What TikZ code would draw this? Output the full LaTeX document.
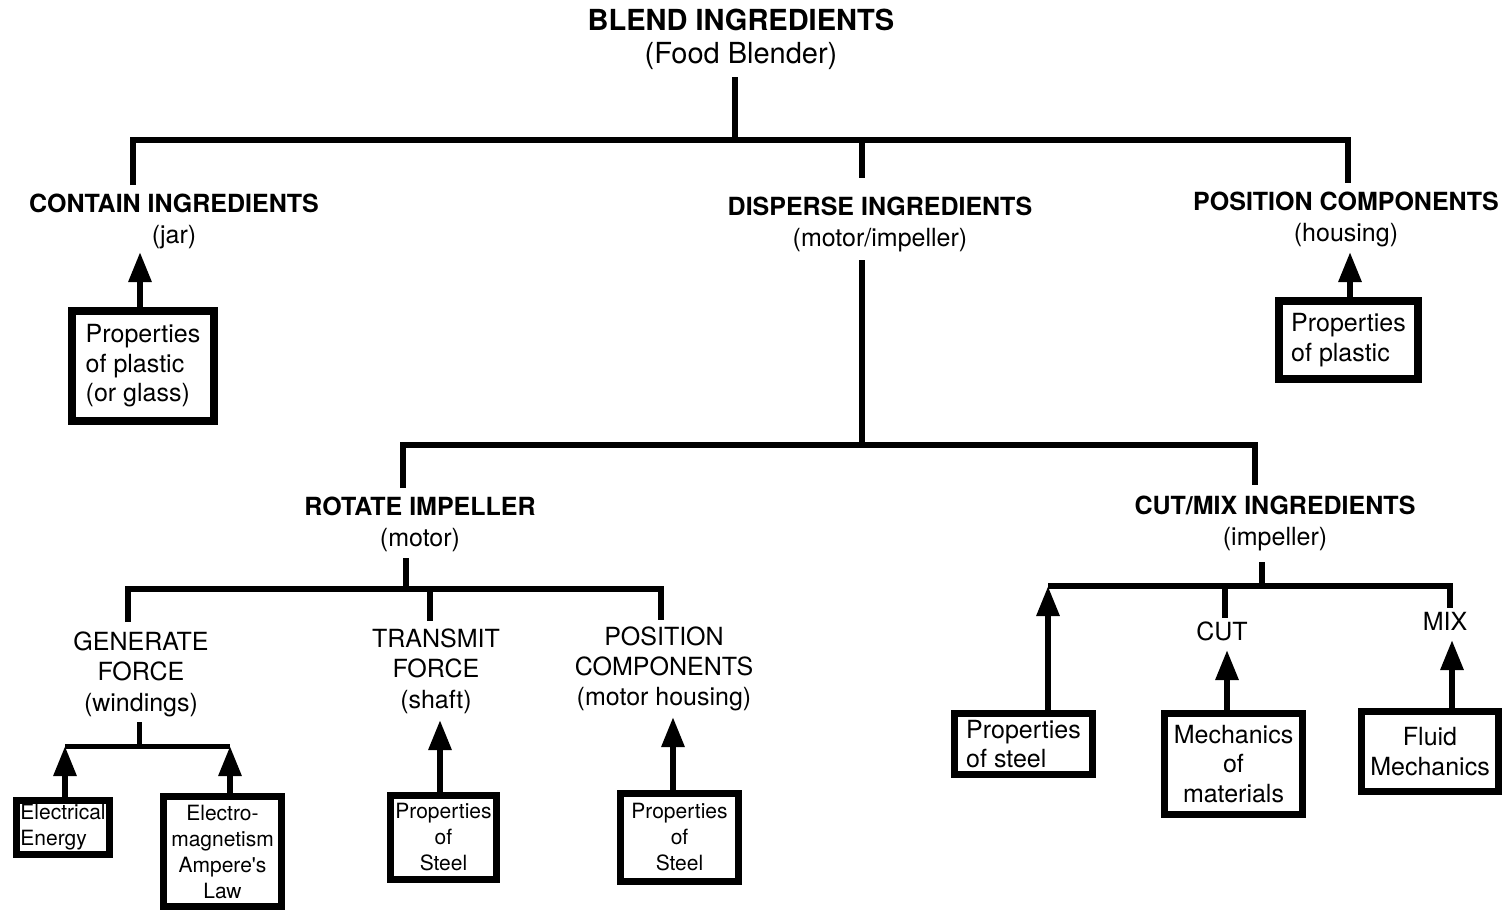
\documentclass[tikz,border=0pt]{standalone}
\usepackage{fontspec}
\setmainfont{TeX Gyre Heros}
\usetikzlibrary{arrows.meta}
\tikzset{
  lbl/.style={font=\fontsize{25}{30.5}\selectfont, align=center, inner sep=0pt},
  blbl/.style={align=center, inner sep=0pt, font=\bfseries\fontsize{25}{31}\selectfont},
  conn/.style={line width=6pt, line cap=butt, line join=miter},
  arr/.style={line width=6pt, -{Triangle[length=30pt,width=22pt]}},
  pbox/.style={draw, line width=8pt, inner sep=0pt, font=\fontsize{25}{29.5}\selectfont},
  sbox/.style={draw, line width=7pt, inner sep=0pt, font=\fontsize{21}{26}\selectfont},
}
\begin{document}
\begin{tikzpicture}[x=1pt,y=-1pt]
\fill[white] (0,0) rectangle (1504,913);
\useasboundingbox (0,0) rectangle (1504,913);

% ---------- labels ----------
\node[align=center, inner sep=0pt, font=\bfseries\fontsize{29}{33}\selectfont] (blend) at (741,39.5)
  {BLEND INGREDIENTS\\\mdseries (Food Blender)};
\node[blbl] (contain) at (174,221) {CONTAIN INGREDIENTS\\\mdseries (jar)};
\node[blbl] (disperse) at (880,224) {DISPERSE INGREDIENTS\\\mdseries (motor/impeller)};
\node[blbl] (position) at (1346,219) {POSITION COMPONENTS\\\mdseries (housing)};
\node[blbl] (rotate) at (420,524) {ROTATE IMPELLER\\\mdseries (motor)};
\node[blbl] (cutmix) at (1275,523) {CUT/MIX INGREDIENTS\\\mdseries (impeller)};
\node[lbl] (generate) at (141,674) {GENERATE\\FORCE\\(windings)};
\node[lbl] (transmit) at (436,671) {TRANSMIT\\FORCE\\(shaft)};
\node[lbl, font=\fontsize{25}{30}\selectfont] (poscomp) at (664,669) {POSITION\\COMPONENTS\\(motor housing)};
\node[lbl] (cut) at (1222,631) {CUT};
\node[lbl] (mix) at (1445,621) {MIX};

% ---------- boxes ----------
\node[pbox, minimum width=142pt, minimum height=110pt, align=left] (plastic1) at (143,366)
  {Properties\\of plastic\\(or glass)};
\node[pbox, minimum width=139pt, minimum height=78pt, align=left] (plastic2) at (1348.5,340)
  {Properties\\of plastic};
\node[sbox, minimum width=93pt, minimum height=54pt, align=left] (elec) at (63,827.5)
  {Electrical\\Energy};
\node[sbox, minimum width=118pt, minimum height=110pt, align=center] (emag) at (222.5,851.5)
  {Electro-\\magnetism\\Ampere\textquotesingle s\\Law};
\node[sbox, minimum width=106pt, minimum height=84pt, align=center] (steel1) at (443.5,837.5)
  {Properties\\of\\Steel};
\node[sbox, minimum width=118pt, minimum height=88pt, align=center] (steel2) at (679.5,837.5)
  {Properties\\of\\Steel};
\node[pbox, line width=7pt, minimum width=138pt, minimum height=61pt, align=left] (steel3) at (1023.5,744)
  {Properties\\of steel};
\node[pbox, line width=7pt, minimum width=138pt, minimum height=101pt, align=center] (mech) at (1233.5,764)
  {Mechanics\\of\\materials};
\node[pbox, line width=7pt, minimum width=137pt, minimum height=80pt, align=center] (fluid) at (1430,751.5)
  {Fluid\\Mechanics};

% ---------- junction coordinates ----------
\coordinate (t0) at (735,77);
\coordinate (j0) at (735,140);
\coordinate (a1) at (133,185);
\coordinate (b1) at (862,178);
\coordinate (c1) at (1348,183);
\coordinate (tipA) at (140,252);
\coordinate (tipC) at (1350,252);
\coordinate (d0) at (862,260);
\coordinate (j1) at (862,445);
\coordinate (r1) at (403,488);
\coordinate (m1) at (1255,485);
\coordinate (r2) at (406,558);
\coordinate (j2) at (406,589);
\coordinate (g1) at (128,622);
\coordinate (tr1) at (430,621);
\coordinate (pc1) at (661,620);
\coordinate (g2) at (139,722);
\coordinate (j3) at (139,746);
\coordinate (ee) at (65,746);
\coordinate (em) at (230,746);
\coordinate (tipT) at (440,720);
\coordinate (tipP) at (673,717);
\coordinate (k0) at (1262,562);
\coordinate (j4) at (1262,586);
\coordinate (p1) at (1048,586);
\coordinate (cut1) at (1225,618);
\coordinate (mix1) at (1450,608);
\coordinate (tipM) at (1227,650);
\coordinate (tipF) at (1452,640);

% ---------- connectors ----------
\draw[conn] (t0) -- (j0);
\draw[conn] (a1) |- (c1 |- j0) -- (c1);
\draw[conn] (b1 |- j0) -- (b1);
\draw[arr] (plastic1.north -| tipA) -- (tipA);
\draw[arr] (plastic2.north -| tipC) -- (tipC);

\draw[conn] (d0) -- (j1);
\draw[conn] (r1) |- (j1) -| (m1);

\draw[conn] (r2) -- (j2);
\draw[conn] (g1) |- (j2) -| (pc1);
\draw[conn] (tr1 |- j2) -- (tr1);

\draw[conn, line width=5pt] (g2) -- (j3);
\draw[conn, line width=5pt] (ee) -- (em);
\draw[arr] (elec.north -| ee) -- (ee);
\draw[arr] (emag.north -| em) -- (em);
\draw[arr] (steel1.north -| tipT) -- (tipT);
\draw[arr] (steel2.north -| tipP) -- (tipP);

\draw[conn] (k0) -- (j4);
\draw[conn] (p1) -| (mix1);
\draw[conn] (cut1 |- j4) -- (cut1);
\draw[arr] (steel3.north -| p1) -- (p1);
\draw[arr] (mech.north -| tipM) -- (tipM);
\draw[arr] (fluid.north -| tipF) -- (tipF);
\end{tikzpicture}
\end{document}
